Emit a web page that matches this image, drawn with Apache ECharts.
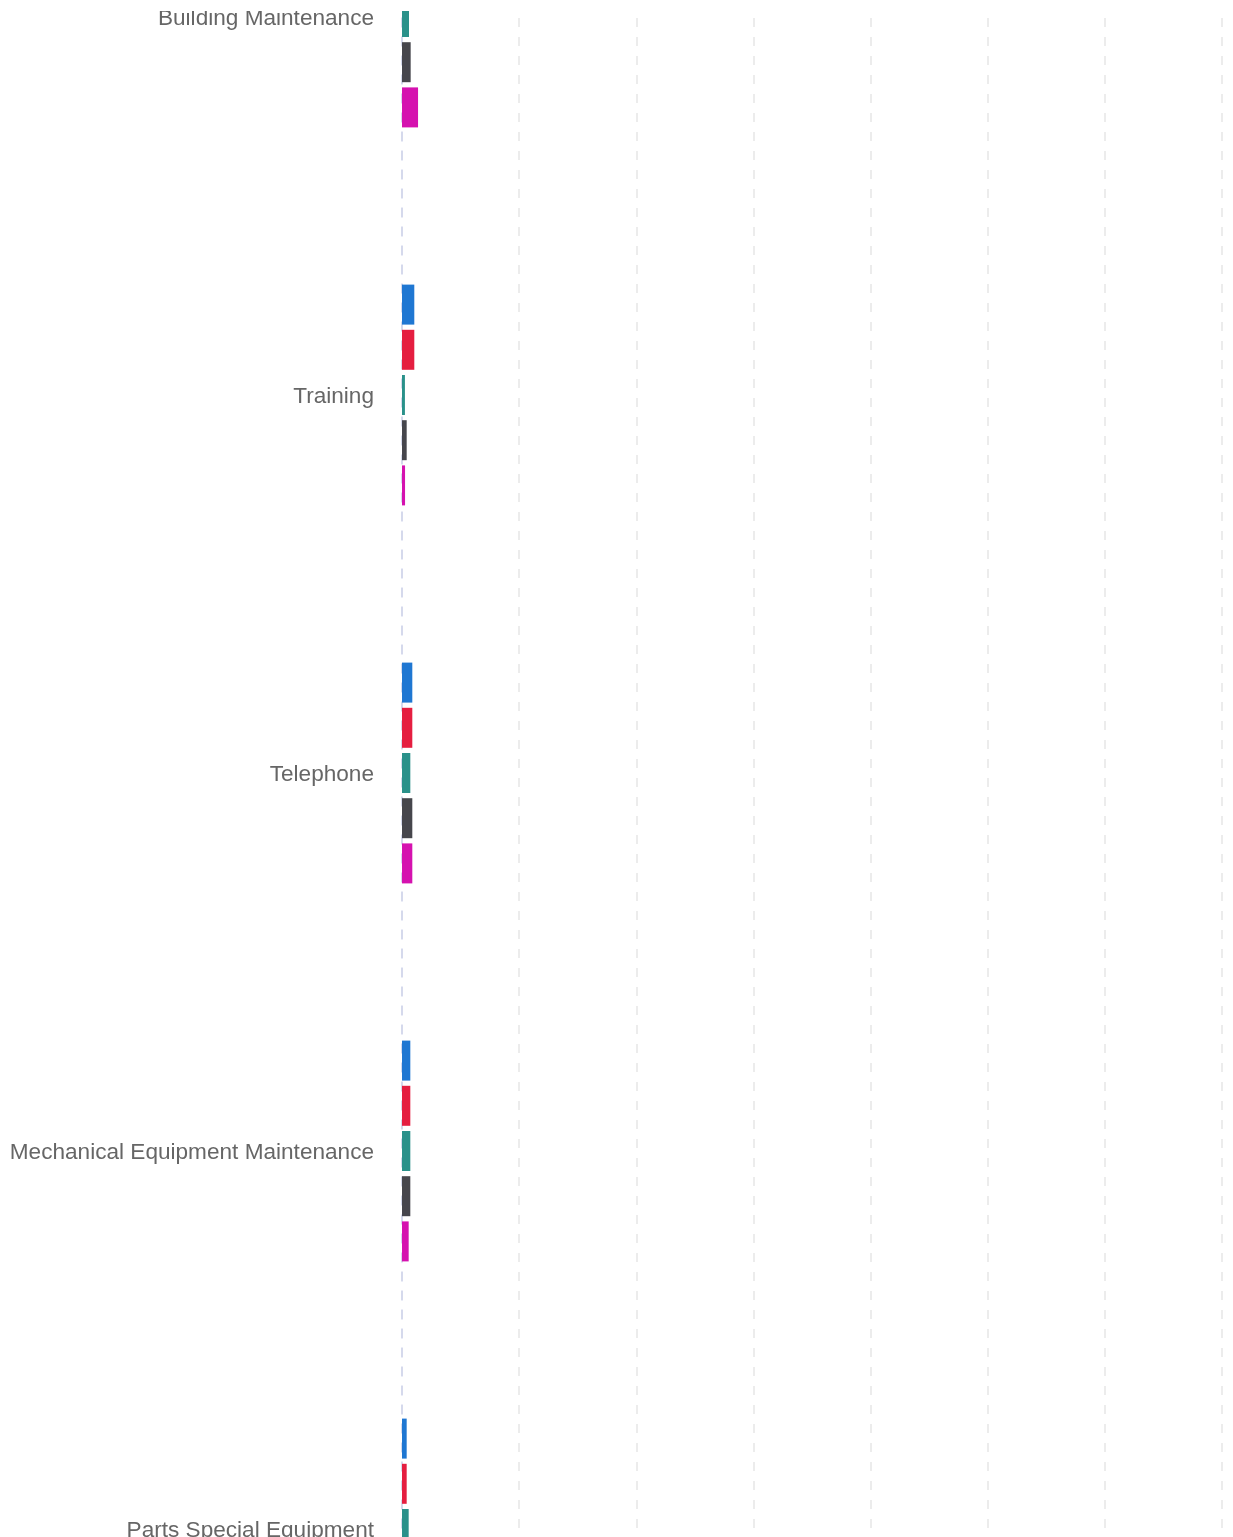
<!DOCTYPE html>
<html>
<head>
<meta charset="utf-8">
<script src="https://cdn.jsdelivr.net/npm/echarts@6/dist/echarts.min.js"></script>
<style>
  html, body { margin: 0; padding: 0; background: #ffffff; overflow: hidden; }
  body { position: relative; width: 1233px; height: 1537px; }
  /* Scrolling viewport: the plot is taller than the window and is shown
     from partway through the first category band. */
  #viewport { position: absolute; left: 0; top: 11px; width: 1233px; height: 1526px; overflow: hidden; }
  #chart { position: absolute; left: 0; top: -183px; width: 1233px; height: 1890px; }
</style>
</head>
<body>
<div id="viewport"><div id="chart"></div></div>
<script>
// Expense categories, listed top to bottom
const categories = [
  'Building Maintenance',
  'Training',
  'Telephone',
  'Mechanical Equipment Maintenance',
  'Parts Special Equipment'
];

// Series values per category (same order as categories)
const seriesA = [9000, 10500, 8800, 7100, 4000];
const seriesB = [9000, 10500, 8800, 7100, 4000];
const seriesC = [6000, 2500, 7100, 7100, 5700];
const seriesD = [7400, 4000, 8800, 7100, 5700];
const seriesE = [13700, 2600, 8800, 5700, 4500];

const seriesNames = ['Series A', 'Series B', 'Series C', 'Series D', 'Series E'];
const seriesColors = ['#1f77d2', '#e51e40', '#2a918a', '#46464c', '#d512af'];
const seriesData = [seriesA, seriesB, seriesC, seriesD, seriesE];

// Value axis ticks
const axisMin = 0;
const axisMax = 700000;
const axisInterval = 100000;

const chart = echarts.init(document.getElementById('chart'), null, { renderer: 'canvas' });

chart.setOption({
  animation: false,
  backgroundColor: '#ffffff',
  grid: {
    left: 402,
    right: 11,
    top: 0,
    bottom: 0,
    containLabel: false
  },
  xAxis: {
    type: 'value',
    min: axisMin,
    max: axisMax,
    interval: axisInterval,
    axisLine: { show: false },
    axisTick: { show: false },
    axisLabel: { show: false },
    splitLine: {
      show: true,
      lineStyle: { color: '#e6e6e6', width: 1.5, type: [9, 10] }
    }
  },
  yAxis: {
    type: 'category',
    inverse: true,
    data: categories,
    axisLine: {
      show: true,
      lineStyle: { color: '#cdd2eb', width: 1.5, type: [9, 10] }
    },
    axisTick: { show: false },
    axisLabel: {
      margin: 28,
      formatter: (v) => '{c|' + v + '}',
      rich: {
        c: {
          padding: [4, 0, 0, 0],
          color: '#666666',
          fontSize: 22.6,
          fontFamily: 'Liberation Sans, Arial, sans-serif'
        }
      }
    },
    splitLine: { show: false }
  },
  series: seriesData.map((d, i) => ({
    name: seriesNames[i],
    type: 'bar',
    data: d,
    barWidth: 40,
    barGap: '13%',
    itemStyle: { color: seriesColors[i] }
  }))
});
</script>
</body>
</html>
